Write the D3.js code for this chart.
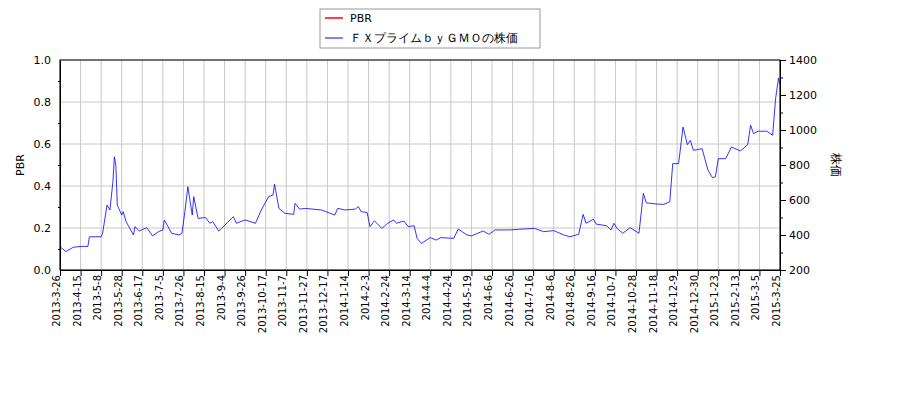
<!DOCTYPE html>
<html><head><meta charset="utf-8">
<script src="https://cdn.jsdelivr.net/npm/d3@7"></script>
<style>body{margin:0;background:#fff}text{font-family:"DejaVu Sans",sans-serif}</style>
</head><body><svg id="c" width="900" height="400"></svg>
<script>
const tickLabels=["2013-3-26","2013-4-15","2013-5-8","2013-5-28","2013-6-17","2013-7-5","2013-7-26","2013-8-15","2013-9-4","2013-9-26","2013-10-17","2013-11-7","2013-11-27","2013-12-17","2014-1-14","2014-2-3","2014-2-24","2014-3-14","2014-4-4","2014-4-24","2014-5-19","2014-6-6","2014-6-26","2014-7-16","2014-8-6","2014-8-26","2014-9-16","2014-10-7","2014-10-28","2014-11-18","2014-12-9","2014-12-30","2015-1-23","2015-2-13","2015-3-5","2015-3-25"];
const dayIndex=[0,4,9,15,19,20,28,29,32,34,36,37,38,39,42,43,45,50,51,54,59,63,67,70,71,76,81,83,85,87,90,91,94,99,102,104,108,110,118,120,126,133,137,142,145,146,149,153,159,160,163,167,178,187,189,194,201,203,205,209,211,214,219,223,227,229,234,237,241,243,246,252,256,259,268,271,277,280,288,292,296,306,315,323,329,336,343,347,353,356,358,363,365,372,375,377,379,383,388,394,397,399,406,411,415,417,421,424,427,429,431,437,441,444,446,448,453,457,463,468,470,472,475,481,485,487,489,490];
const price=[333,305,330,335,335,390,390,410,571,543,705,847,800,571,514,533,476,400,448,423,442,395,419,429,486,410,400,410,533,676,514,619,495,500,467,476,423,438,505,467,486,467,543,619,629,690,552,524,518,581,548,552,543,514,552,543,548,562,533,529,448,481,438,467,486,467,480,448,453,381,352,385,371,385,381,434,400,395,423,404,429,429,434,438,419,425,400,390,404,518,467,490,462,453,429,467,438,410,442,410,638,584,577,575,590,808,808,1017,916,941,884,893,770,728,732,836,836,903,880,916,1027,979,993,993,970,1179,1297,1259];
const pbr=[];
const svg=d3.select("#c");
const L=60,R=780,T=60,B=270;
const x=d3.scaleLinear().domain([0,490]).range([L,R]);
const yL=d3.scaleLinear().domain([0,1]).range([B,T]);
const yR=d3.scaleLinear().domain([200,1400]).range([B,T]);
const tickIdx=tickLabels.map((d,i)=>i*14);
const g=svg.append("g");
g.selectAll(".vg").data(tickIdx).join("line").attr("x1",d=>x(d)).attr("x2",d=>x(d)).attr("y1",T).attr("y2",B).attr("stroke","#c8c8c8");
g.selectAll(".hg").data(d3.range(0,1.01,0.2)).join("line").attr("x1",L).attr("x2",R).attr("y1",d=>yL(d)).attr("y2",d=>yL(d)).attr("stroke","#c8c8c8");
const line=d3.line().x((d,i)=>x(dayIndex[i])).y(d=>yR(d));
svg.append("path").datum(price).attr("d",line).attr("fill","none").attr("stroke","#0000ff").attr("stroke-width",0.8);
svg.append("rect").attr("x",L).attr("y",T).attr("width",R-L).attr("height",B-T).attr("fill","none").attr("stroke","#000");
const ax=svg.append("g").attr("transform",`translate(0,${B})`).call(d3.axisBottom(x).tickValues(tickIdx).tickFormat((d,i)=>tickLabels[i]).tickSizeOuter(0));
ax.selectAll("text").attr("transform","rotate(-90)").attr("text-anchor","end").attr("x",-5).attr("y",-4).attr("dy","0.35em").style("font-size","10px");
const al=svg.append("g").attr("transform",`translate(${L},0)`).call(d3.axisLeft(yL).tickValues(d3.range(0,1.01,0.1)).tickFormat(d=>Math.round(d*10)%2===0?d.toFixed(1):"").tickSizeOuter(0));
al.selectAll("text").style("font-size","11px");
al.selectAll(".tick line").attr("x2",d=>Math.round(d*10)%2===0?0:-2).attr("x1",0);
const ar=svg.append("g").attr("transform",`translate(${R},0)`).call(d3.axisRight(yR).tickValues(d3.range(200,1401,100)).tickFormat(d=>d%200===0?d:"").tickSizeOuter(0));
ar.selectAll("text").style("font-size","11px");
ar.selectAll(".tick line").attr("x2",d=>d%200===0?6:3);
svg.selectAll(".domain").attr("stroke","#000");
svg.append("text").attr("transform","translate(24,165) rotate(-90)").attr("text-anchor","middle").style("font-size","11px").text("PBR");
svg.append("text").attr("transform","translate(832,165) rotate(90)").attr("text-anchor","middle").style("font-size","12px").text("株価");
const lg=svg.append("g");
lg.append("rect").attr("x",320).attr("y",9).attr("width",220).attr("height",39).attr("fill","#fff").attr("stroke","#999");
lg.append("line").attr("x1",325).attr("x2",343).attr("y1",18).attr("y2",18).attr("stroke","#ff0000").attr("stroke-width",1.5);
lg.append("text").attr("x",350).attr("y",22).style("font-size","11px").text("PBR");
lg.append("line").attr("x1",325).attr("x2",343).attr("y1",38).attr("y2",38).attr("stroke","#0000ff");
lg.append("text").attr("x",350).attr("y",42).style("font-size","12px").text("ＦＸプライムｂｙＧＭＯの株価");
</script></body></html>
